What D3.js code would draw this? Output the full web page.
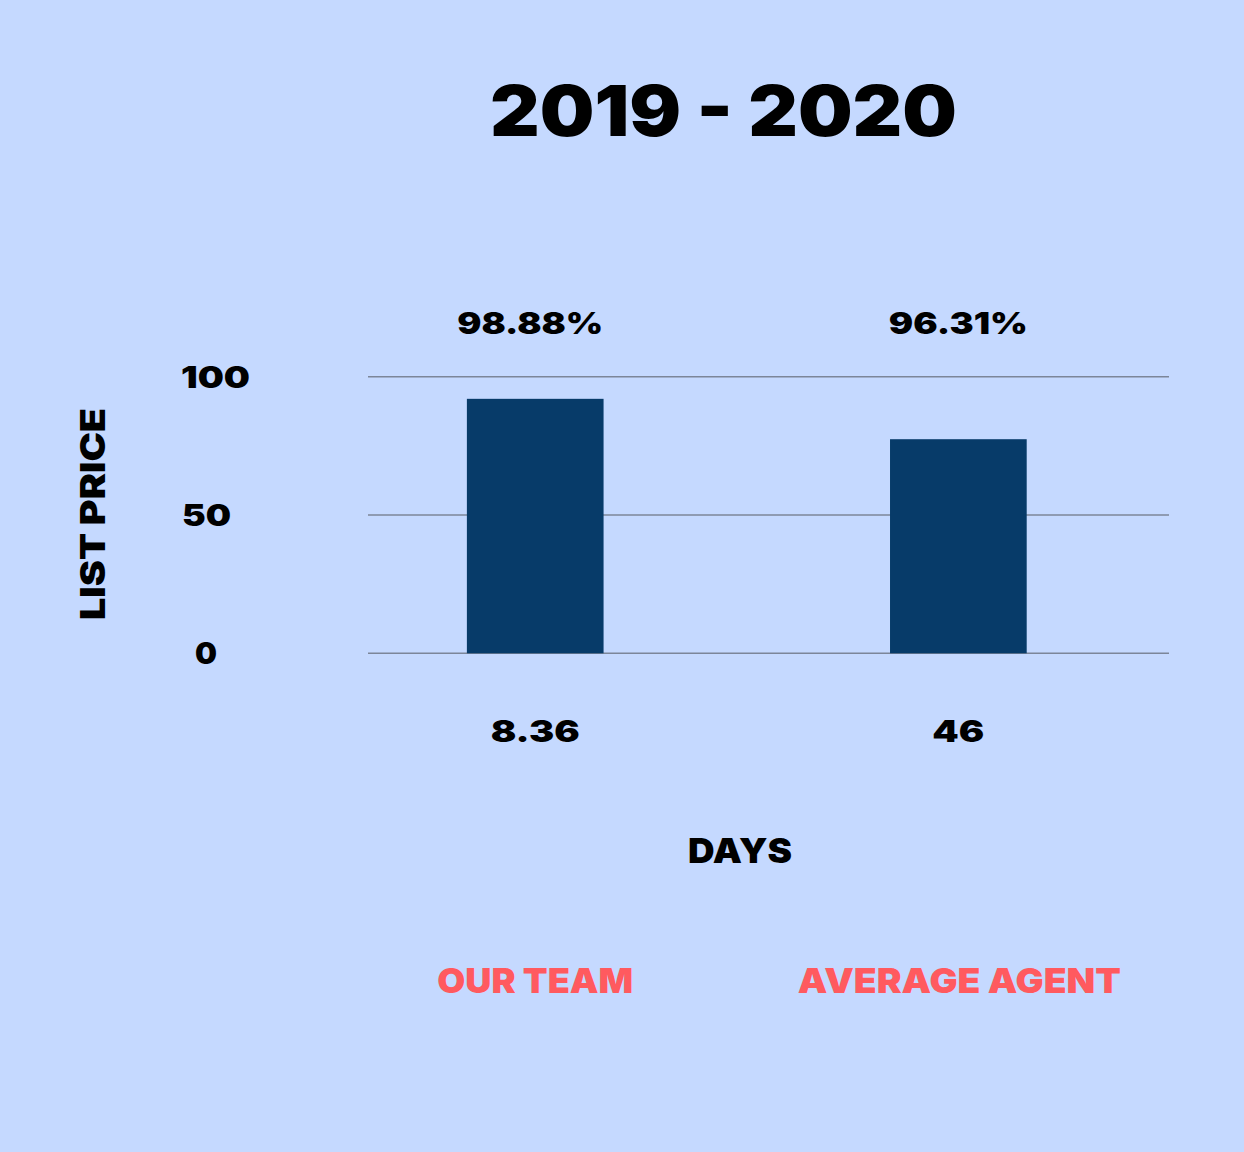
<!DOCTYPE html>
<html><head><meta charset="utf-8">
<script src="https://cdn.jsdelivr.net/npm/d3@7"></script>
<style>
html,body{margin:0;padding:0;background:#C5D9FF;}
text{font-family:Inter,"Lato",sans-serif;font-weight:900;}
</style></head>
<body>
<script>
const categories = ["OUR TEAM", "AVERAGE AGENT"];
const values = [92, 77.4];
const topLabels = ["98.88%", "96.31%"];
const bottomLabels = ["8.36", "46"];
const yTicks = [0, 50, 100];
const title = "2019 - 2020";
const yTitle = "LIST PRICE";
const xTitle = "DAYS";

// rendered text widths / centres (layout only)
const tickWidths = {0: 22, 50: 49, 100: 69};
const tickCentres = {0: 206, 50: 206.5, 100: 215.5};
const topWidths = [146, 139];
const topOffsets = [-5, 0];
const bottomWidths = [89, 52];
const catWidths = [196, 323];

const W = 1244, H = 1152;
const svg = d3.select("body").append("svg").attr("width", W).attr("height", H);
svg.append("rect").attr("width", W).attr("height", H).attr("fill", "#C5D9FF");

const plotLeft = 368, plotRight = 1169, plotTop = 376.7, plotBottom = 653.3;
const x = d3.scaleBand().domain(categories).range([plotLeft, plotRight])
  .paddingInner(0.677).paddingOuter(0.285).align(0.41);
const y = d3.scaleLinear().domain([0, 100]).range([plotBottom, plotTop]);

// gridlines
svg.append("g").selectAll("line").data(yTicks).join("line")
  .attr("x1", plotLeft).attr("x2", plotRight)
  .attr("y1", d => y(d)).attr("y2", d => y(d))
  .attr("stroke", "#7C8699").attr("stroke-width", 1.5);

// bars
svg.append("g").selectAll("rect").data(values).join("rect")
  .attr("x", (d, i) => x(categories[i]))
  .attr("width", x.bandwidth())
  .attr("y", d => y(d))
  .attr("height", d => y(0) - y(d))
  .attr("fill", "#073B69");

// y tick labels
svg.append("g").selectAll("text").data(yTicks).join("text")
  .attr("x", d => tickCentres[d]).attr("y", d => y(d)).attr("dy", "0.36em")
  .attr("text-anchor", "middle").attr("font-size", 30).attr("fill", "#000")
  .attr("textLength", d => tickWidths[d]).attr("lengthAdjust", "spacingAndGlyphs")
  .text(d => d);

const cx = (i) => x(categories[i]) + x.bandwidth() / 2;

// top labels
svg.append("g").selectAll("text").data(topLabels).join("text")
  .attr("x", (d, i) => cx(i) + topOffsets[i]).attr("y", 334)
  .attr("text-anchor", "middle").attr("font-size", 30).attr("fill", "#000")
  .attr("textLength", (d, i) => topWidths[i]).attr("lengthAdjust", "spacingAndGlyphs")
  .text(d => d);

// bottom labels
svg.append("g").selectAll("text").data(bottomLabels).join("text")
  .attr("x", (d, i) => cx(i)).attr("y", 742)
  .attr("text-anchor", "middle").attr("font-size", 30).attr("fill", "#000")
  .attr("textLength", (d, i) => bottomWidths[i]).attr("lengthAdjust", "spacingAndGlyphs")
  .text(d => d);

// category labels
svg.append("g").selectAll("text").data(categories).join("text")
  .attr("x", (d, i) => cx(i) + (i === 1 ? 1 : 0)).attr("y", 993)
  .attr("text-anchor", "middle").attr("font-size", 34).attr("fill", "#FF5A5F")
  .attr("textLength", (d, i) => catWidths[i]).attr("lengthAdjust", "spacingAndGlyphs")
  .text(d => d);

// title
svg.append("text").attr("x", 723.5).attr("y", 136).attr("text-anchor", "middle")
  .attr("font-size", 70).attr("fill", "#000")
  .attr("textLength", 467).attr("lengthAdjust", "spacingAndGlyphs").text(title);

// axis titles
svg.append("text").attr("transform", "translate(105,514) rotate(-90)")
  .attr("text-anchor", "middle").attr("font-size", 34).attr("fill", "#000")
  .attr("textLength", 212).attr("lengthAdjust", "spacingAndGlyphs").text(yTitle);
svg.append("text").attr("x", 740).attr("y", 863).attr("text-anchor", "middle")
  .attr("font-size", 34).attr("fill", "#000")
  .attr("textLength", 104).attr("lengthAdjust", "spacingAndGlyphs").text(xTitle);
</script>
</body></html>
